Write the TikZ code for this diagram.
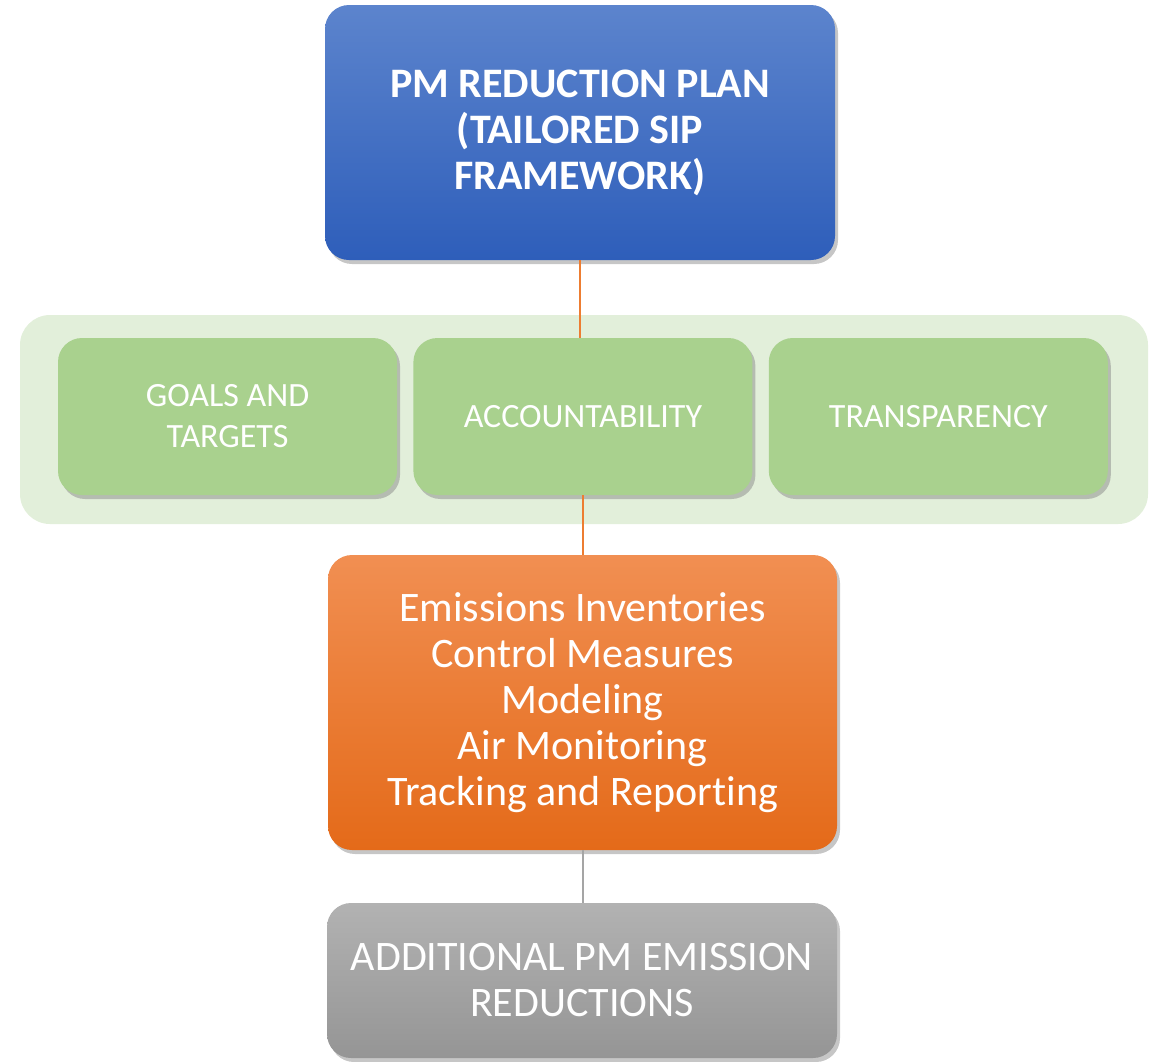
\documentclass[tikz,border=0pt]{standalone}
\usepackage{fontspec}
\setmainfont{Carlito}[Ligatures=NoCommon]
\usepackage{xcolor}
\usetikzlibrary{positioning,shadows}

\definecolor{plantop}{HTML}{5C84CD}
\definecolor{planbot}{HTML}{2E5EBA}
\definecolor{pillarbg}{HTML}{E2EFDA}
\definecolor{pillarfill}{HTML}{A9D18E}
\definecolor{tooltop}{HTML}{F18F52}
\definecolor{toolbot}{HTML}{E46A19}
\definecolor{resulttop}{HTML}{B2B2B2}
\definecolor{resultbot}{HTML}{959595}
\definecolor{linkorange}{HTML}{ED7D31}
\definecolor{linkgrey}{HTML}{A5A5A5}

\begin{document}
\begin{tikzpicture}[x=1pt, y=-1pt,
		box/.style={rectangle, rounded corners=24pt, inner sep=0pt, align=center, text=white,
			drop shadow={shadow xshift=3pt, shadow yshift=-4pt, opacity=0.45}},
		bigtext/.style={font=\fontsize{42}{46}\selectfont},
		pillar/.style={box, fill=pillarfill, minimum width=339pt, minimum height=157pt,
			font=\fontsize{34}{41}\selectfont},
		link/.style={line width=2pt}]
\useasboundingbox (0,0) rectangle (1155,1061);

\fill[pillarbg, rounded corners=30pt] (20,315) rectangle (1148,524);

\node[box, bigtext, top color=plantop, bottom color=planbot, minimum width=510pt, minimum height=255pt,
	font=\fontsize{42}{46}\bfseries] (plan) at (580,132.5) {PM REDUCTION PLAN\\(TAILORED SIP\\FRAMEWORK)};

\node[pillar] (goals) at (227.5,416.5) {GOALS AND\\TARGETS};
\node[pillar, right=16pt of goals] (acc) {ACCOUNTABILITY};
\node[pillar, right=16pt of acc] (trans) {TRANSPARENCY};

\node[box, bigtext, top color=tooltop, bottom color=toolbot, minimum width=509pt, minimum height=295pt] (tools) at (582.5,702.5)
	{Emissions Inventories\\Control Measures\\Modeling\\Air Monitoring\\Tracking and Reporting};

\node[box, bigtext, top color=resulttop, bottom color=resultbot, minimum width=510pt, minimum height=155pt] (result) at (582,980.5)
	{ADDITIONAL PM EMISSION\\REDUCTIONS};

\draw[link, linkorange] (plan.south) -- (plan.south |- acc.north);
\draw[link, linkorange] (acc.south) -- (acc.south |- tools.north);
\draw[link, linkgrey] (tools.south) -- (tools.south |- result.north);

\end{tikzpicture}
\end{document}
